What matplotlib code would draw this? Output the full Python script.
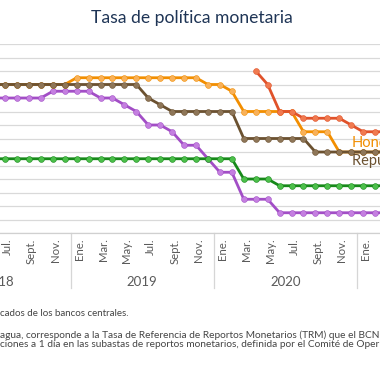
import matplotlib
matplotlib.use('Agg')
import matplotlib.pyplot as plt
import matplotlib.transforms as mtransforms
import numpy as np

plt.rcParams['font.family'] = ['Lato', 'DejaVu Sans']

# months from Jun 2018 (index -1) to Mar 2021 (index 32)
meses_idx = np.arange(-1, 33)

tick_pos = np.arange(0, 31, 2)
tick_labels = ['Jul.', 'Sept.', 'Nov.',
               'Ene.', 'Mar.', 'May.', 'Jul.', 'Sept.', 'Nov.',
               'Ene.', 'Mar.', 'May.', 'Jul.', 'Sept.', 'Nov.',
               'Ene.']
years = ['2018', '2019', '2020']
year_bounds = [-6.5, 5.5, 17.5, 29.5]

nan = np.nan
costa_rica = [5.0, 5.0, 5.0, 5.0, 5.0, 5.25, 5.25, 5.25, 5.25, 5.0, 5.0, 4.75, 4.5,
              4.0, 4.0, 3.75, 3.25, 3.25, 2.75, 2.25, 2.25, 1.25, 1.25, 1.25,
              0.75, 0.75, 0.75, 0.75, 0.75, 0.75, 0.75, 0.75, 0.75, 0.75]
guatemala = [2.75] * 21 + [2.0, 2.0, 2.0] + [1.75] * 10
honduras = [5.5] * 7 + [5.75] * 11 + [5.5, 5.5, 5.25] + [4.5] * 5 + [3.75] * 3 + [3.0] * 5
nicaragua = [nan] * 22 + [6.0, 5.5, 4.5, 4.5, 4.25, 4.25, 4.25, 4.25, 4.0, 3.75, 3.75, 3.75]
rep_dom = [5.5] * 13 + [5.0, 4.75] + [4.5] * 6 + [3.5] * 6 + [3.0] * 7

series = [
    ('Costa Rica', costa_rica, '#a24ec6', '#c47fe0'),
    ('Guatemala', guatemala, '#17891a', '#4cbf4a'),
    ('Honduras', honduras, '#f28e00', '#f8b15a'),
    ('Nicaragua', nicaragua, '#e0522a', '#f07a50'),
    ('República Dominicana', rep_dom, '#6b5130', '#8e7658'),
]

fig = plt.figure(figsize=(3.8, 3.8), dpi=100)
ax = fig.add_axes([0.0, 1 - 233 / 380, 1.0, 189 / 380])

for name, vals, lc, mc in series:
    ax.plot(meses_idx, vals, color=lc, lw=2.0, marker='o', ms=4.2,
            markerfacecolor=mc, markeredgecolor=lc, markeredgewidth=0.4,
            solid_joinstyle='round', zorder=3)

ax.set_xlim(-0.42, 31.41)
ax.set_ylim(0, 7)
ax.set_yticks(np.arange(0, 7.01, 0.5))
ax.yaxis.grid(True, color='#d9d9d9', lw=0.9)
ax.set_axisbelow(True)
ax.tick_params(axis='y', left=False, labelleft=False)
for s in ['top', 'right', 'left']:
    ax.spines[s].set_visible(False)
ax.spines['bottom'].set_color('#d0d0d0')
ax.spines['bottom'].set_linewidth(0.9)

ax.set_xticks(tick_pos)
ax.set_xticklabels(tick_labels, rotation=90, fontsize=8.2, color='#5a5a5a')
ax.tick_params(axis='x', length=0, pad=4)
# labels sit a little right of the points
shift = mtransforms.ScaledTranslation(2.5 / 100, 0, fig.dpi_scale_trans)
for lab in ax.get_xticklabels():
    lab.set_transform(lab.get_transform() + shift)

tr = ax.get_xaxis_transform()
for b in year_bounds:
    ax.plot([b, b], [0, -0.29], color='#d6d6d6', lw=0.9, transform=tr, clip_on=False)
for i, y in enumerate(years):
    ax.text((year_bounds[i] + year_bounds[i + 1]) / 2, -0.258, y, transform=tr,
            ha='center', va='center', fontsize=9.5, color='#5a5a5a')

ax.text(29.06, 3.33, 'Honduras', color='#f28e00', fontsize=10.5, va='center', ha='left', clip_on=True)
ax.text(29.06, 2.67, 'República Dominicana', color='#6b5130', fontsize=10.5, va='center', ha='left', clip_on=True)

fig.text(0.505, 1 - 18 / 380, 'Tasa de política monetaria', ha='center', va='center',
         fontsize=12.6, color='#1f3556')

foot_color = '#444444'
fig.text(0.0, 1 - 313 / 380, 'cados de los bancos centrales.', ha='left', va='center',
         fontsize=7.0, color=foot_color)
fig.text(0.0, 1 - 335 / 380,
         'agua, corresponde a la Tasa de Referencia de Reportos Monetarios (TRM) que el BCN',
         ha='left', va='center', fontsize=7.3, color=foot_color)
fig.text(0.0, 1 - 344.5 / 380,
         'ciones a 1 día en las subastas de reportos monetarios, definida por el Comité de Oper',
         ha='left', va='center', fontsize=7.3, color=foot_color)

fig.savefig('out.png', dpi=100)
